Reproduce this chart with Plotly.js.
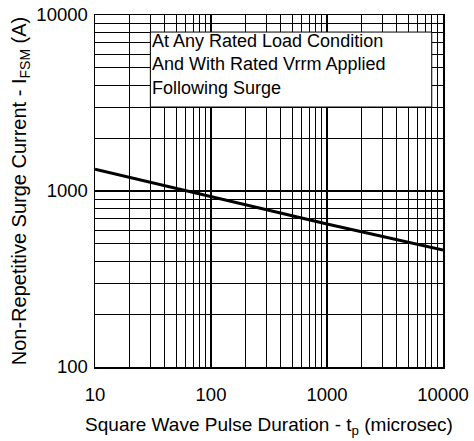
<!DOCTYPE html>
<html>
<head>
<meta charset="utf-8">
<script src="https://cdn.plot.ly/plotly-3.0.1.min.js"></script>
<style>html,body{margin:0;padding:0;background:#fff}#chart{width:474px;height:441px}</style>
</head>
<body>
<div id="chart"></div>
<script>
var pulseDuration = [10, 100, 1000, 10000];
var surgeCurrent = [1330, 930, 650, 462];

var xMajorTicks = [10, 100, 1000, 10000];
var xMajorLabels = ['10', '100', '1000', '10000'];
var yMajorTicks = [100, 1000, 10000];
var yMajorLabels = ['100', '1000', '10000'];
var xMinorTicks = [20,30,40,50,60,70,80,90,200,300,400,500,600,700,800,900,2000,3000,4000,5000,6000,7000,8000,9000];
var yMinorTicks = [200,300,400,500,600,700,800,900,2000,3000,4000,5000,6000,7000,8000,9000];

var noteLines = ['At Any Rated Load Condition', 'And With Rated Vrrm Applied', 'Following Surge'];
var noteBox = {x0: 30, x1: 8000, y0: 3000, y1: 8000};

var font = 'Liberation Sans, Arial, sans-serif';

var trace = {
  x: pulseDuration, y: surgeCurrent, type: 'scatter', mode: 'lines',
  line: {color: '#000', width: 3}, hoverinfo: 'skip'
};

var layout = {
  width: 474, height: 441,
  margin: {l: 95, r: 31, t: 15, b: 74},
  paper_bgcolor: '#fff', plot_bgcolor: '#fff',
  showlegend: false,
  font: {family: font, color: '#000', size: 18},
  xaxis: {
    type: 'log', range: [1, 4],
    tickmode: 'array', tickvals: xMajorTicks, ticktext: xMajorLabels,
    showgrid: true, gridcolor: '#000', gridwidth: 2,
    minor: {tickmode: 'array', tickvals: xMinorTicks, showgrid: true, gridcolor: '#000', gridwidth: 1, ticks: ''},
    showline: true, linecolor: '#000', linewidth: 1.5, mirror: true,
    ticks: '', zeroline: false, automargin: false,
    ticklabelstandoff: 10,
    tickfont: {size: 18.5, family: font, color: '#000'},
    title: {text: 'Square Wave Pulse Duration - t<sub>p</sub> (microsec)', font: {size: 19, family: font, color: '#000'}, standoff: 14}
  },
  yaxis: {
    type: 'log', range: [2, 4],
    tickmode: 'array', tickvals: yMajorTicks, ticktext: yMajorLabels,
    showgrid: true, gridcolor: '#000', gridwidth: 2,
    minor: {tickmode: 'array', tickvals: yMinorTicks, showgrid: true, gridcolor: '#000', gridwidth: 1, ticks: ''},
    showline: true, linecolor: '#000', linewidth: 1.5, mirror: true,
    ticks: '', zeroline: false, automargin: false,
    ticklabelstandoff: 2,
    tickfont: {size: 18.5, family: font, color: '#000'},
    title: {text: 'Non-Repetitive Surge Current - I<sub>FSM</sub> (A)', font: {size: 20, family: font, color: '#000'}, standoff: 4}
  },
  shapes: [{
    type: 'rect', xref: 'x', yref: 'y', layer: 'above',
    x0: noteBox.x0, x1: noteBox.x1, y0: noteBox.y0, y1: noteBox.y1,
    fillcolor: '#fff', line: {color: '#000', width: 1}
  }],
  annotations: [{
    xref: 'x', yref: 'y', x: Math.log10(noteBox.x0), y: Math.log10(noteBox.y1),
    xanchor: 'left', yanchor: 'top', align: 'left', showarrow: false,
    xshift: 0, yshift: 3,
    text: noteLines.join('<br>'),
    font: {size: 18, family: font, color: '#000'}
  }]
};

Plotly.newPlot('chart', [trace], layout, {displayModeBar: false, staticPlot: true});
</script>
</body>
</html>
